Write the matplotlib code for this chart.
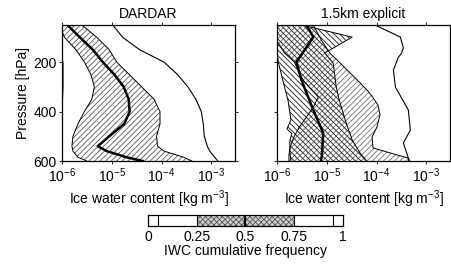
import numpy as np
import matplotlib
matplotlib.use('Agg')
import matplotlib.pyplot as plt

# ── Fonts / style ─────────────────────────────────────────────────────
plt.rcParams['font.family'] = ['Liberation Sans', 'DejaVu Sans']
plt.rcParams['font.size'] = 10
plt.rcParams['mathtext.fontset'] = 'custom'
plt.rcParams['mathtext.rm'] = 'Liberation Sans'
plt.rcParams['mathtext.it'] = 'Liberation Sans:italic'
plt.rcParams['mathtext.bf'] = 'Liberation Sans:bold'
plt.rcParams['hatch.linewidth'] = 0.6

# ── Data (log10 IWC [kg m-3] vs pressure [hPa]) ──────────────────────
# DARDAR
dar_p = [50, 100, 150, 200, 250, 300, 350, 400, 450, 500, 540, 560, 585, 600]
dar_q25 = [-6.05, -5.95, -5.72, -5.55, -5.42, -5.35, -5.40, -5.55, -5.68, -5.78, -5.80, -5.78, -5.68, -5.50]
dar_q75 = [-5.60, -5.30, -5.05, -4.90, -4.65, -4.40, -4.15, -4.03, -4.03, -4.10, -4.08, -3.95, -3.55, -3.39]
dar_q50 = [-5.89, -5.64, -5.38, -5.18, -4.95, -4.76, -4.66, -4.64, -4.75, -5.05, -5.28, -5.10, -4.70, -4.38]
dar_q95 = [-4.98, -4.78, -4.44, -3.95, -3.68, -3.47, -3.31, -3.20, -3.16, -3.14, -3.08, -3.03, -2.93, -2.87]
dar_q05 = [-6.60, -6.30, -6.08, -5.98, -5.98, -5.98, -5.99, -6.10, -6.30, -6.40, -6.50, -6.50, -6.50, -6.50]

# 1.5km explicit: band A (\\ hatch)
exA_p = [50, 99, 163, 204, 300, 353, 434, 470, 490, 515, 568, 600]
exA_lo = [-6.05, -6.03, -6.00, -5.97, -5.85, -5.78, -5.72, -5.80, -5.70, -5.74, -5.74, -5.72]
exA_hi = [-5.50, -4.49, -5.04, -4.87, -4.81, -4.75, -4.63, -4.57, -4.53, -4.49, -4.33, -4.20]

# 1.5km explicit: band B (// hatch)
exB_p = [50, 114, 163, 200, 244, 280, 313, 341, 374, 414, 462, 503, 547, 576, 588, 600]
exB_lo = [-6.05, -6.00, -5.85, -5.65, -5.55, -5.45, -5.30, -5.17, -5.25, -5.38, -5.55, -5.66, -5.74, -5.76, -5.76, -5.76]
exB_hi = [-5.27, -5.10, -4.94, -4.75, -4.53, -4.35, -4.19, -4.08, -3.97, -3.93, -3.99, -4.09, -4.07, -3.58, -3.36, -3.33]

ex_med_p = [50, 99, 200, 272, 394, 487, 584, 600]
ex_med = [-5.41, -5.27, -5.61, -5.51, -5.27, -5.07, -5.10, -5.12]

ex_q95_p = [50, 99, 143, 165, 180, 232, 301, 394, 475, 527, 588, 600]
ex_q95 = [-4.03, -3.52, -3.46, -3.50, -3.56, -3.66, -3.62, -3.36, -3.32, -3.46, -3.36, -3.35]

# colour-bar key
cb_ticks = [0, 0.25, 0.5, 0.75, 1]
cb_labels = ['0', '0.25', '0.5', '0.75', '1']
cb_lines = [0.05, 0.25, 0.5, 0.75, 0.95]

# ── Figure ────────────────────────────────────────────────────────────
fig = plt.figure(figsize=(4.52, 2.70), dpi=100)
ax1 = fig.add_axes([62 / 452, 1 - 161 / 270, 173 / 452, 136 / 270])
ax2 = fig.add_axes([277 / 452, 1 - 161 / 270, 173 / 452, 136 / 270])
cax = fig.add_axes([148 / 452, 1 - 226 / 270, 195 / 452, 11 / 270])


def to_iwc(vals):
    return 10.0 ** np.asarray(vals)


# DARDAR panel
ax1.fill_betweenx(dar_p, to_iwc(dar_q25), to_iwc(dar_q75), facecolor='none',
                  edgecolor='0.35', hatch='//////', linewidth=0)
ax1.plot(to_iwc(dar_q25), dar_p, color='k', lw=0.7)
ax1.plot(to_iwc(dar_q75), dar_p, color='k', lw=0.7)
ax1.plot(to_iwc(dar_q50), dar_p, color='k', lw=1.8)
ax1.plot(to_iwc(dar_q95), dar_p, color='k', lw=0.8)
ax1.plot(to_iwc(dar_q05), dar_p, color='k', lw=0.8)
ax1.set_title('DARDAR', fontsize=10, pad=5)

# 1.5km explicit panel
ax2.fill_betweenx(exB_p, to_iwc(exB_lo), to_iwc(exB_hi), facecolor='none',
                  edgecolor='0.45', hatch='//////', linewidth=0)
ax2.fill_betweenx(exA_p, to_iwc(exA_lo), to_iwc(exA_hi), facecolor='none',
                  edgecolor='0.1', hatch='\\' * 6, linewidth=0)
for xs, ps in [(exB_lo, exB_p), (exB_hi, exB_p), (exA_lo, exA_p), (exA_hi, exA_p)]:
    ax2.plot(to_iwc(xs), ps, color='k', lw=0.7)
ax2.plot(to_iwc(ex_med), ex_med_p, color='k', lw=1.8)
ax2.plot(to_iwc(ex_q95), ex_q95_p, color='k', lw=0.8)
ax2.set_title('1.5km explicit', fontsize=10, pad=5)

for ax in (ax1, ax2):
    ax.set_xscale('log')
    ax.set_xlim(1e-6, 3e-3)
    ax.set_ylim(600, 50)
    ax.set_xticks([1e-6, 1e-5, 1e-4, 1e-3])
    ax.minorticks_off()
    ax.set_yticks([200, 400, 600])
    ax.tick_params(direction='out', length=2.5, width=0.6, top=True, right=True,
                   pad=1.5, labelsize=10)
    ax.set_xlabel('Ice water content [kg m$^{-3}$]', labelpad=2)
    for s in ax.spines.values():
        s.set_linewidth(0.9)

ax1.set_ylabel('Pressure [hPa]', labelpad=2)
ax2.tick_params(labelleft=False)

# colour-bar key
cax.set_xlim(0, 1)
cax.set_ylim(0, 1)
cax.axvspan(0.25, 0.75, facecolor='0.8', edgecolor='0.35', hatch='xxxxxx', linewidth=0)
for v in cb_lines:
    cax.axvline(v, color='k', lw=1.6 if v == 0.5 else 0.8)
cax.set_yticks([])
cax.set_xticks(cb_ticks)
cax.set_xticklabels(cb_labels)
cax.tick_params(length=0, pad=3, labelsize=10)
cax.set_xlabel('IWC cumulative frequency', labelpad=0)
for s in cax.spines.values():
    s.set_linewidth(0.9)

fig.savefig('out.png', dpi=100)
